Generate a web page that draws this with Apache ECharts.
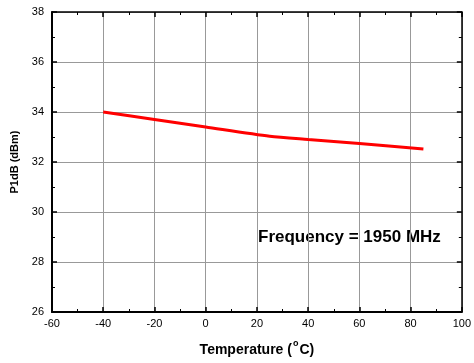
<!DOCTYPE html>
<html>
<head>
<meta charset="utf-8">
<script src="https://cdn.jsdelivr.net/npm/echarts@6/dist/echarts.min.js"></script>
<style>
html,body{margin:0;padding:0;background:#fff;}
#chart{width:474px;height:363px;}
</style>
</head>
<body>
<div id="chart"></div>
<script>
const temperatures = [-40, -20, 0, 25, 40, 60, 85];
const p1db = [34, 33.7, 33.4, 33.03, 32.9, 32.74, 32.52];
const xTicks = { min: -60, max: 100, interval: 20 };
const yTicks = { min: 26, max: 38, interval: 2 };
const xTitle = 'Temperature';
const yTitle = 'P1dB (dBm)';
const note = 'Frequency = 1950 MHz';

const FONT = '"Liberation Sans", Arial, sans-serif';
const chart = echarts.init(document.getElementById('chart'), null, {renderer: 'canvas'});

const lineStyleAxis = { color: '#000', width: 1.5 };
const tickCommon = { show: true, inside: true, length: 5, lineStyle: { color: '#000', width: 1.5 } };
const minorCommon = { show: true, splitNumber: 2, length: 3, lineStyle: { color: '#000', width: 1 } };

chart.setOption({
  animation: false,
  backgroundColor: '#fff',
  grid: { left: 52, right: 11, top: 12, bottom: 51, containLabel: false },
  xAxis: [{
    type: 'value', position: 'bottom',
    min: xTicks.min, max: xTicks.max, interval: xTicks.interval,
    axisLine: { show: true, onZero: false, lineStyle: { color: '#000', width: 2 } },
    axisTick: tickCommon,
    minorTick: minorCommon,
    axisLabel: { color: '#000', fontSize: 11, fontFamily: FONT, margin: 6 },
    splitLine: { show: true, lineStyle: { color: '#999', width: 1 } },
    name: '{t|' + xTitle + ' (}{sup|o}{t|C)}',
    nameLocation: 'middle', nameGap: 27,
    nameTextStyle: {
      color: '#000', fontSize: 14, fontWeight: 'bold', fontFamily: FONT,
      rich: {
        t: { fontSize: 14, fontWeight: 'bold', fontFamily: FONT, color: '#000', lineHeight: 18, verticalAlign: 'bottom' },
        sup: { fontSize: 9, fontFamily: FONT, color: '#000', lineHeight: 18, verticalAlign: 'top', padding: [0, 1, 0, 1] }
      }
    }
  }, {
    type: 'value', position: 'top',
    min: xTicks.min, max: xTicks.max, interval: xTicks.interval,
    axisLine: { show: true, onZero: false, lineStyle: lineStyleAxis },
    axisTick: tickCommon,
    minorTick: minorCommon,
    axisLabel: { show: false },
    splitLine: { show: false }
  }],
  yAxis: [{
    type: 'value', position: 'left',
    min: yTicks.min, max: yTicks.max, interval: yTicks.interval,
    axisLine: { show: true, onZero: false, lineStyle: { color: '#000', width: 2 } },
    axisTick: tickCommon,
    minorTick: minorCommon,
    axisLabel: { color: '#000', fontSize: 11, fontFamily: FONT, margin: 8 },
    splitLine: { show: true, lineStyle: { color: '#999', width: 1 } },
    name: yTitle,
    nameLocation: 'middle', nameGap: 30,
    nameTextStyle: { color: '#000', fontSize: 11, fontWeight: 'bold', fontFamily: FONT }
  }, {
    type: 'value', position: 'right',
    min: yTicks.min, max: yTicks.max, interval: yTicks.interval,
    axisLine: { show: true, onZero: false, lineStyle: lineStyleAxis },
    axisTick: tickCommon,
    minorTick: minorCommon,
    axisLabel: { show: false },
    splitLine: { show: false }
  }],
  series: [{
    type: 'line',
    data: temperatures.map((t, i) => [t, p1db[i]]),
    showSymbol: false,
    smooth: 0.25,
    lineStyle: { color: '#ff0000', width: 3 },
    z: 5
  }],
  graphic: [{
    type: 'text',
    left: 258, top: 229,
    style: { text: note, fill: '#000', font: 'bold 17px ' + FONT }
  }]
});
</script>
</body>
</html>
